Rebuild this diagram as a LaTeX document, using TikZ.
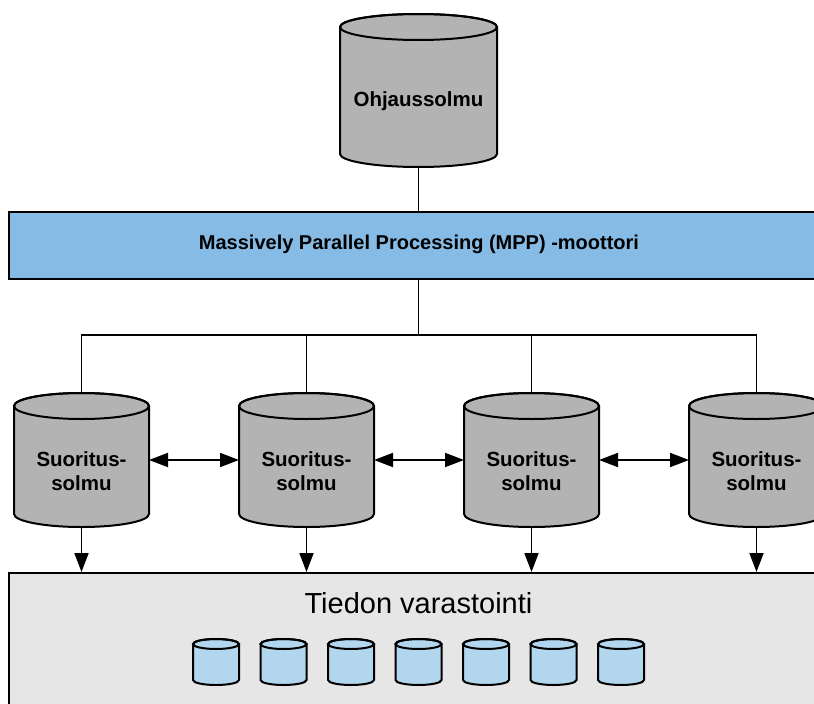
\documentclass[tikz,border=0pt]{standalone}
\usepackage{fontspec}
\setmainfont{Liberation Sans}
\usetikzlibrary{arrows.meta}
\definecolor{drumgray}{HTML}{B3B3B3}
\definecolor{enginebl}{HTML}{85BBE5}
\definecolor{storegray}{HTML}{E6E6E6}
\definecolor{diskbl}{HTML}{B3D6EF}

% cylinder: centre x, top y, bottom y, x radius, y radius, fill (y measured downwards)
\newcommand\tankshape[6]{%
  \filldraw[fill=#6] ({#1-#4},{-#2}) -- ({#1-#4},{-#3})
    arc[start angle=180,end angle=360,x radius=#4pt,y radius=#5pt]
    -- ({#1+#4},{-#2})
    arc[start angle=0,end angle=180,x radius=#4pt,y radius=#5pt] -- cycle;
  \draw ({#1},{-#2}) ellipse[x radius=#4pt,y radius=#5pt];}

\begin{document}
\begin{tikzpicture}[x=1pt,y=1pt,line width=2pt,
  hull/.style={inner sep=0pt,outer sep=0pt},
  boldlbl/.style={font=\fontsize{20.5}{23.5}\selectfont\bfseries,align=center,inner sep=0pt},
  link/.style={line width=1.8pt},
  tip/.style={-{Triangle[length=19pt,width=14pt]}},
  tips/.style={{Triangle[length=19pt,width=14pt]}-{Triangle[length=19pt,width=14pt]}},
  band/.style={draw,anchor=north west,minimum width=840pt,inner sep=0pt}]
\useasboundingbox (0,0) rectangle (814,-704);
\clip (0,0) rectangle (814,-704);

% control node
\tankshape{418.5}{27}{154}{78.5}{13}{drumgray}
\node[hull,minimum width=157pt,minimum height=153pt] (ctrl) at (418.5,-90.5) {};
\node[boldlbl] (ctrltxt) at (418.5,-101) {Ohjaussolmu};

% MPP engine band
\node[band,fill=enginebl,minimum height=67pt] (mpp) at (8,-211) {};
\node[boldlbl,font=\fontsize{20}{23}\selectfont\bfseries] (mpptxt) at (419,-244) {Massively Parallel Processing (MPP) -moottori};
\draw[link] (ctrl.south) -- (ctrl.south |- mpp.north);
\coordinate (bus) at (418.5,-335);
\draw[link] (ctrl.south |- mpp.south) -- (bus);

% storage band
\node[band,fill=storegray,minimum height=160pt] (store) at (8,-572) {};
\node[font=\fontsize{29}{32}\selectfont,inner sep=0pt] (storetxt) at (418.5,-603) {Tiedon varastointi};

% worker nodes
\foreach \i/\cx in {1/81.5,2/306.5,3/531.5,4/756.5}{
  \tankshape{\cx}{406}{514}{67.5}{13}{drumgray}
  \node[hull,minimum width=135pt,minimum height=134pt] (w\i) at (\cx,-460) {};
  \node[boldlbl] (w\i txt) at (\cx,-471) {Suoritus-\\solmu};
}

% links from the engine to the workers
\draw[link] (w1.north) |- (bus) -| (w4.north);
\draw[link] (w2.north) |- (bus);
\draw[link] (w3.north) |- (bus);

% worker to worker exchange
\draw[link,tips] (w1.east) -- (w2.west);
\draw[link,tips] (w2.east) -- (w3.west);
\draw[link,tips] (w3.east) -- (w4.west);

% workers to storage
\foreach \i in {1,...,4}{
  \draw[link,tip] (w\i.south) -- (w\i.south |- store.north);
}

% storage disks
\foreach \k in {0,...,6}{
  \tankshape{216+67.5*\k}{644}{680}{23}{5}{diskbl}
}
\end{tikzpicture}
\end{document}
